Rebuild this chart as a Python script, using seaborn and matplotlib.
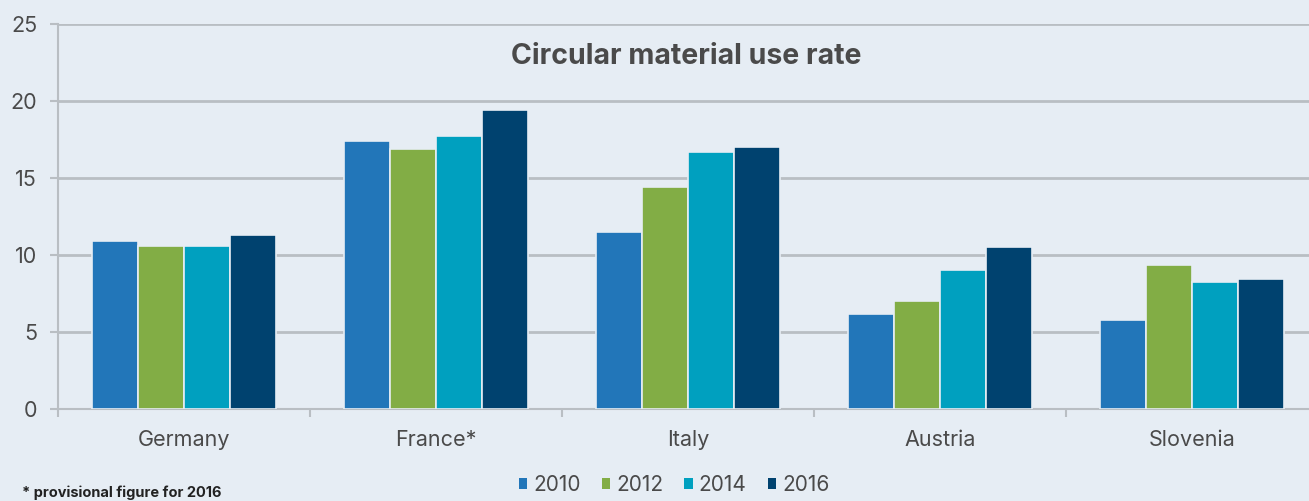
import numpy as np
import pandas as pd
import matplotlib
matplotlib.use("Agg")
import matplotlib.pyplot as plt
import seaborn as sns
from matplotlib.patches import Patch

countries = ["Germany", "France*", "Italy", "Austria", "Slovenia"]
years = ["2010", "2012", "2014", "2016"]
v2010 = [10.9, 17.4, 11.5, 6.2, 5.8]
v2012 = [10.6, 16.9, 14.4, 7.0, 9.35]
v2014 = [10.6, 17.7, 16.7, 9.0, 8.25]
v2016 = [11.3, 19.4, 17.0, 10.5, 8.45]
colors = ["#2276b9", "#82ad45", "#00a0bf", "#00426f"]

bg = "#e6edf4"
grid_c = "#b9bec3"
text_c = "#4a4a4a"

rows = []
for yr, vals in zip(years, [v2010, v2012, v2014, v2016]):
    for c, v in zip(countries, vals):
        rows.append({"country": c, "year": yr, "value": v})
df = pd.DataFrame(rows)

sns.set_theme(style="white")
plt.rcParams["font.family"] = ["Inter", "DejaVu Sans"]

fig = plt.figure(figsize=(13.09, 5.01), dpi=100, facecolor=bg)
ax = fig.add_axes([58/1309, 92/501, 1260/1309, 385/501])
ax.set_facecolor(bg)

sns.barplot(data=df, x="country", y="value", hue="year", palette=colors,
            order=countries, hue_order=years, width=0.73, ax=ax, saturation=1,
            edgecolor=bg, linewidth=1.2, legend=False, errorbar=None, zorder=3)

ax.set_xlim(-0.5, 4.5)
ax.set_ylim(0, 25)
ax.set_yticks([0, 5, 10, 15, 20, 25])
ax.yaxis.grid(True, color=grid_c, linewidth=2, zorder=0)
ax.set_axisbelow(True)
for s in ["top", "right"]:
    ax.spines[s].set_visible(False)
for s in ["left", "bottom"]:
    ax.spines[s].set_color(grid_c)
    ax.spines[s].set_linewidth(1.5)

ax.set_xlabel("")
ax.set_ylabel("")
ax.set_xticks(range(5))
ax.set_xticklabels(countries)
ax.set_xticks(np.arange(-0.5, 5.0, 1.0), minor=True)
ax.tick_params(axis="x", which="major", length=0, pad=15, labelsize=15.5, labelcolor=text_c)
ax.tick_params(axis="x", which="minor", length=6, width=1.5, color=grid_c, direction="out")
ax.tick_params(axis="y", length=6, width=1.5, color=grid_c, pad=9, labelsize=15.5, labelcolor=text_c)
ax.tick_params(axis="both", which="both", bottom=True, left=True)
ax.tick_params(axis="x", which="major", bottom=False)

ax.text(0.524, 1 - 57/501, "Circular material use rate", transform=fig.transFigure,
        ha="center", va="center", fontsize=20.5, fontweight="bold", color=text_c)

handles = [Patch(facecolor=c, edgecolor="none") for c in colors]
leg = fig.legend(handles, years, loc="center", bbox_to_anchor=(0.515, 0.032),
                 ncol=4, frameon=False, fontsize=15, handlelength=0.4, handleheight=0.4,
                 handletextpad=0.3, columnspacing=1.0, labelcolor=text_c)

fig.text(22/1309, 0.002, "* provisional figure for 2016", ha="left", va="bottom",
         fontsize=10.5, fontweight="bold", color="#222222")

fig.savefig("out.png", dpi=100, facecolor=bg)
